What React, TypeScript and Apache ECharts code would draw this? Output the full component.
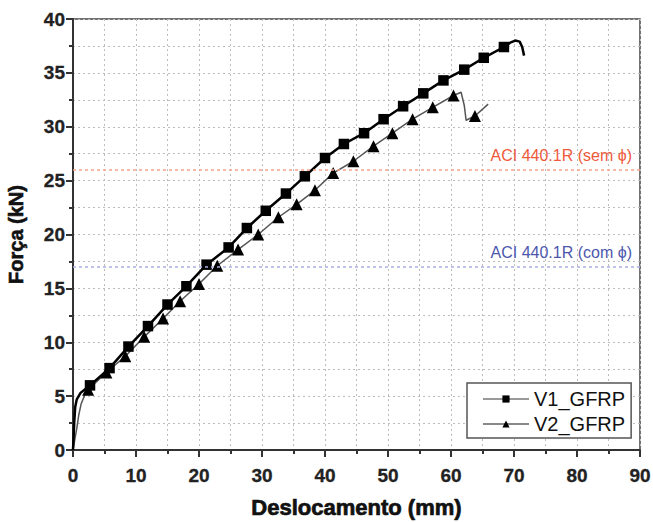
import React, { useEffect, useRef } from "react";
import * as echarts from "echarts";

// Displacement (mm) / Force (kN) curves
const v1Points: number[][] = [
  [0, 0], [0.1, 1.2], [0.2, 2.6], [0.35, 4.0], [0.6, 4.7], [1.2, 5.3], [2.7, 6.0],
  [5.8, 7.6], [8.8, 9.6], [11.9, 11.5], [15.0, 13.5], [18.0, 15.2], [21.2, 17.2],
  [24.7, 18.8], [27.6, 20.6], [30.6, 22.2], [33.8, 23.8], [36.8, 25.4], [40.0, 27.1],
  [43.0, 28.4], [46.2, 29.4], [49.3, 30.7], [52.4, 31.9], [55.6, 33.1], [58.8, 34.3],
  [62.1, 35.3], [65.2, 36.4], [68.4, 37.4], [69.4, 37.8], [70.2, 38.0], [70.9, 37.9],
  [71.3, 37.4], [71.6, 36.6],
];
const v1MarkerFrom = 6;
const v1MarkerTo = 27;

const v2Points: number[][] = [
  [0, 0], [0.3, 1.0], [0.6, 2.0], [0.9, 3.2], [1.3, 4.3], [1.8, 5.0], [2.4, 5.6],
  [5.3, 7.2], [8.3, 8.7], [11.3, 10.5], [14.3, 12.2], [17.0, 13.8], [20.0, 15.4],
  [22.9, 17.1], [26.2, 18.6], [29.4, 20.0], [32.6, 21.6], [35.5, 22.8], [38.4, 24.1],
  [41.3, 25.7], [44.5, 26.8], [47.7, 28.2], [50.7, 29.4], [53.9, 30.7], [57.1, 31.8],
  [60.4, 32.9], [61.6, 33.2], [62.1, 32.0], [62.4, 30.6], [63.8, 31.0], [65.9, 32.1],
];
const v2MarkerIdx = [6, 7, 8, 9, 10, 11, 12, 13, 14, 15, 16, 17, 18, 19, 20, 21, 22, 23, 24, 25, 29];

const seriesNames = ["V1_GFRP", "V2_GFRP"];
const refValues = [26, 17];
const refLabels = ["ACI 440.1R (sem \u03d5)", "ACI 440.1R (com \u03d5)"];

const xTitle = "Deslocamento (mm)";
const yTitle = "Força (kN)";

export default function App() {
  const ref = useRef<HTMLDivElement>(null);
  useEffect(() => {
    if (!ref.current) return;
    const chart = echarts.init(ref.current, null, { renderer: "svg" });
    const font = "'Liberation Sans', Arial, sans-serif";
    const grid = { color: "#bdbdbd", type: [2, 3] as number[], width: 1 };

    const v1Data = v1Points.map((p, i) =>
      i >= v1MarkerFrom && i <= v1MarkerTo ? { value: p } : { value: p, symbol: "none" }
    );
    const v2Data = v2Points.map((p, i) =>
      v2MarkerIdx.includes(i) ? { value: p } : { value: p, symbol: "none" }
    );

    chart.setOption({
      animation: false,
      backgroundColor: "#fff",
      grid: {
        left: 73, right: 13, top: 19, bottom: 72,
        containLabel: false, outerBoundsMode: "none",
        show: true, borderColor: "#444", borderWidth: 1.5, backgroundColor: "transparent",
      },
      xAxis: {
        type: "value", min: 0, max: 90, interval: 10,
        name: xTitle, nameLocation: "middle", nameGap: 46,
        nameTextStyle: { fontFamily: font, fontWeight: 900, fontSize: 22, color: "#111", textBorderColor: "#111", textBorderWidth: 0.7 },
        axisLine: { show: true, onZero: false, lineStyle: { color: "#333", width: 2 } },
        axisTick: { show: true, length: 7, lineStyle: { color: "#333", width: 2 } },
        minorTick: { show: true, splitNumber: 2, length: 4, lineStyle: { color: "#333", width: 2 } },
        axisLabel: { fontFamily: font, fontWeight: "bold", fontSize: 19, color: "#222", margin: 16, textBorderColor: "#222", textBorderWidth: 0.3 },
        splitLine: { show: true, lineStyle: grid },
        minorSplitLine: { show: true, lineStyle: grid },
      },
      yAxis: {
        type: "value", min: 0, max: 40, interval: 5,
        name: yTitle, nameLocation: "middle", nameGap: 47, nameRotate: 90,
        nameTextStyle: { fontFamily: font, fontWeight: 900, fontSize: 20, color: "#111", textBorderColor: "#111", textBorderWidth: 0.6 },
        axisLine: { show: true, onZero: false, lineStyle: { color: "#333", width: 2 } },
        axisTick: { show: true, length: 7, lineStyle: { color: "#333", width: 2 } },
        minorTick: { show: true, splitNumber: 2, length: 4, lineStyle: { color: "#333", width: 2 } },
        axisLabel: { fontFamily: font, fontWeight: "bold", fontSize: 19, color: "#222", margin: 8, textBorderColor: "#222", textBorderWidth: 0.3 },
        splitLine: { show: true, lineStyle: grid },
        minorSplitLine: { show: true, lineStyle: grid },
      },
      legend: {
        orient: "vertical",
        left: 467, top: 383,
        padding: [6, 6, 4, 15],
        itemGap: 5,
        itemWidth: 46, itemHeight: 9,
        backgroundColor: "#fff",
        borderColor: "#555", borderWidth: 1.5, borderRadius: 0,
        textStyle: { fontFamily: font, fontSize: 20, color: "#111" },
        data: [
          { name: seriesNames[0], lineStyle: { color: "#999", width: 2 }, itemStyle: { color: "#000" } },
          { name: seriesNames[1], lineStyle: { color: "#888", width: 2 }, itemStyle: { color: "#000" } },
        ],
      },
      series: [
        {
          name: seriesNames[0], type: "line", data: v1Data,
          symbol: "rect", symbolSize: 10.5, showAllSymbol: true,
          lineStyle: { color: "#000", width: 2.5 },
          itemStyle: { color: "#000" },
          z: 3,
          markLine: {
            silent: true, symbol: "none",
            data: [
              {
                yAxis: refValues[0],
                lineStyle: { color: "#f5a489", type: [3, 3], width: 1.5 },
                label: {
                  show: true, position: "insideEndTop", formatter: refLabels[0],
                  fontFamily: font, fontSize: 16, color: "#ef5a3b", distance: [8, 6],
                },
              },
              {
                yAxis: refValues[1],
                lineStyle: { color: "#aab0e2", type: [3, 3], width: 1.5 },
                label: {
                  show: true, position: "insideEndTop", formatter: refLabels[1],
                  fontFamily: font, fontSize: 16, color: "#4b57ad", distance: [8, 6],
                },
              },
            ],
          },
        },
        {
          name: seriesNames[1], type: "line", data: v2Data,
          symbol: "triangle", symbolSize: 12, showAllSymbol: true,
          lineStyle: { color: "#555", width: 1.5 },
          itemStyle: { color: "#000" },
          z: 2,
        },
      ],
    });
    return () => chart.dispose();
  }, []);
  return (
    <div
      ref={ref}
      style={{ position: "fixed", left: 0, top: 0, width: 653, height: 522, background: "#fff" }}
    />
  );
}
